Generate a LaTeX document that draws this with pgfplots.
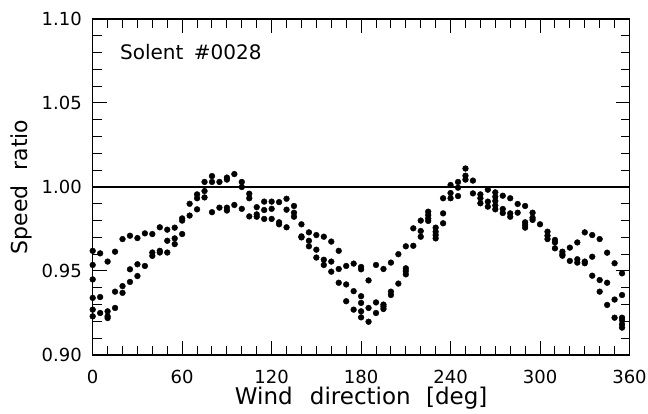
\documentclass[border=0pt]{standalone}
\usepackage{fontspec}
\setmainfont{DejaVu Sans}
\usepackage{pgfplots}
\usepackage{pgfplotstable}
\pgfplotsset{compat=1.18}
\pgfplotstableread{
x y
0 0.962
0 0.9536
0 0.945
0 0.934
0 0.927
0 0.923
5 0.9605
5 0.9345
5 0.925
10 0.9556
10 0.926
10 0.923
10 0.922
15 0.9615
15 0.9377
15 0.928
20 0.969
20 0.941
20 0.937
25 0.971
25 0.951
25 0.9435
30 0.9696
30 0.954
30 0.947
35 0.9724
35 0.953
40 0.972
40 0.961
40 0.959
45 0.976
45 0.962
45 0.961
50 0.9746
50 0.968
50 0.961
55 0.9758
55 0.9694
55 0.966
60 0.9813
60 0.980
60 0.972
65 0.990
65 0.983
70 0.9956
70 0.9933
70 0.9867
75 1.003
75 0.9976
75 0.9938
80 1.0065
80 1.003
80 0.985
85 1.003
85 0.9877
90 1.0056
90 1.0044
90 0.9877
90 0.986
95 1.0077
95 0.9893
100 1.003
100 1.000
100 0.987
105 0.996
105 0.9933
105 0.9825
110 0.988
110 0.9837
110 0.9823
115 0.9913
115 0.9863
115 0.981
120 0.9913
120 0.987
120 0.981
125 0.991
125 0.979
125 0.9778
130 0.993
130 0.9865
130 0.976
135 0.9887
135 0.9847
135 0.9823
140 0.9778
140 0.9706
140 0.970
145 0.973
145 0.968
145 0.9647
150 0.9714
150 0.9627
150 0.958
155 0.9704
155 0.9567
155 0.9536
160 0.9675
160 0.9556
160 0.9496
165 0.962
165 0.9512
165 0.943
170 0.953
170 0.942
170 0.932
175 0.9544
175 0.938
175 0.927
180 0.9524
180 0.951
180 0.935
180 0.931
180 0.926
180 0.9224
185 0.9444
185 0.928
185 0.9198
190 0.9536
190 0.9313
190 0.925
195 0.9512
195 0.930
195 0.9288
195 0.9274
200 0.955
200 0.9377
200 0.9357
205 0.960
205 0.9425
210 0.9647
210 0.9516
210 0.950
210 0.948
215 0.9754
215 0.965
220 0.980
220 0.9738
220 0.9704
225 0.9853
225 0.9833
225 0.9813
225 0.9798
230 0.9758
230 0.9734
230 0.9714
230 0.9694
235 0.9933
235 0.9843
235 0.9784
240 1.0012
240 0.9964
240 0.9933
245 1.003
245 0.9996
245 0.9946
250 1.011
250 1.0067
250 1.0044
255 1.0038
255 0.9962
260 0.9956
260 0.9933
260 0.9903
265 0.9984
265 0.9913
265 0.9883
270 0.9968
270 0.9942
270 0.9917
270 0.989
270 0.9867
275 0.9948
275 0.9869
275 0.9845
280 0.9933
280 0.9843
280 0.9823
285 0.9899
285 0.9847
290 0.9887
290 0.979
290 0.9774
290 0.9758
295 0.9847
295 0.9817
295 0.9804
300 0.9778
305 0.9734
305 0.971
305 0.969
310 0.9685
310 0.967
310 0.9635
315 0.9615
315 0.960
315 0.9591
320 0.9639
320 0.956
325 0.967
325 0.957
325 0.955
330 0.973
330 0.9556
330 0.9546
335 0.9714
335 0.9585
335 0.9472
340 0.969
340 0.9446
340 0.9377
345 0.9609
345 0.943
345 0.9298
350 0.9546
350 0.933
350 0.9222
355 0.9486
355 0.9357
355 0.9222
355 0.9208
355 0.9183
355 0.9163
}\datatable
\begin{document}
\begin{tikzpicture}
\begin{axis}[
  scale only axis,
  width=536.8pt, height=336pt,
  xmin=0, xmax=360, ymin=0.90, ymax=1.10,
  xtick={0,60,...,360},
  ytick={0.90,0.95,1.00,1.05,1.10},
  minor x tick num=5,
  minor y tick num=4,
  tick align=inside,
  major tick length=14pt,
  minor tick length=9pt,
  axis line style={line width=1.3pt},
  every tick/.style={black, line width=1pt},
  /pgf/number format/assume math mode=true,
  tick label style={font=\fontsize{18}{18}\selectfont, inner sep=0pt},
  xticklabel style={anchor=north, yshift=-15pt},
  yticklabel style={anchor=east, xshift=-10.7pt,
    /pgf/number format/fixed, /pgf/number format/precision=2,
    /pgf/number format/fixed zerofill},
]
\addplot[black, line width=1.2pt] coordinates {(0,1) (360,1)};
\addplot[only marks, mark=*, mark size=2.9pt, black] table[x=x, y=y] {\datatable};
\node[anchor=base west, inner sep=0pt, font=\fontsize{20}{20}\selectfont] at (axis cs:18.3,1.0756) {Solent\hspace{4pt} \#0028};
\end{axis}
\node[anchor=base, inner sep=0pt, font=\fontsize{23}{23}\selectfont] at ([yshift=-50pt]current axis.south) {Wind\hspace{10pt} direction\hspace{8pt} [deg]};
\node[rotate=90, anchor=base, inner sep=0pt, font=\fontsize{22}{22}\selectfont] at ([xshift=-64.7pt]current axis.west) {Speed\hspace{8pt} ratio};
\pgfresetboundingbox
\path[use as bounding box] ([xshift=-92.7pt,yshift=-59pt]current axis.south west) rectangle ([xshift=18.5pt,yshift=19pt]current axis.north east);
\end{tikzpicture}
\end{document}
